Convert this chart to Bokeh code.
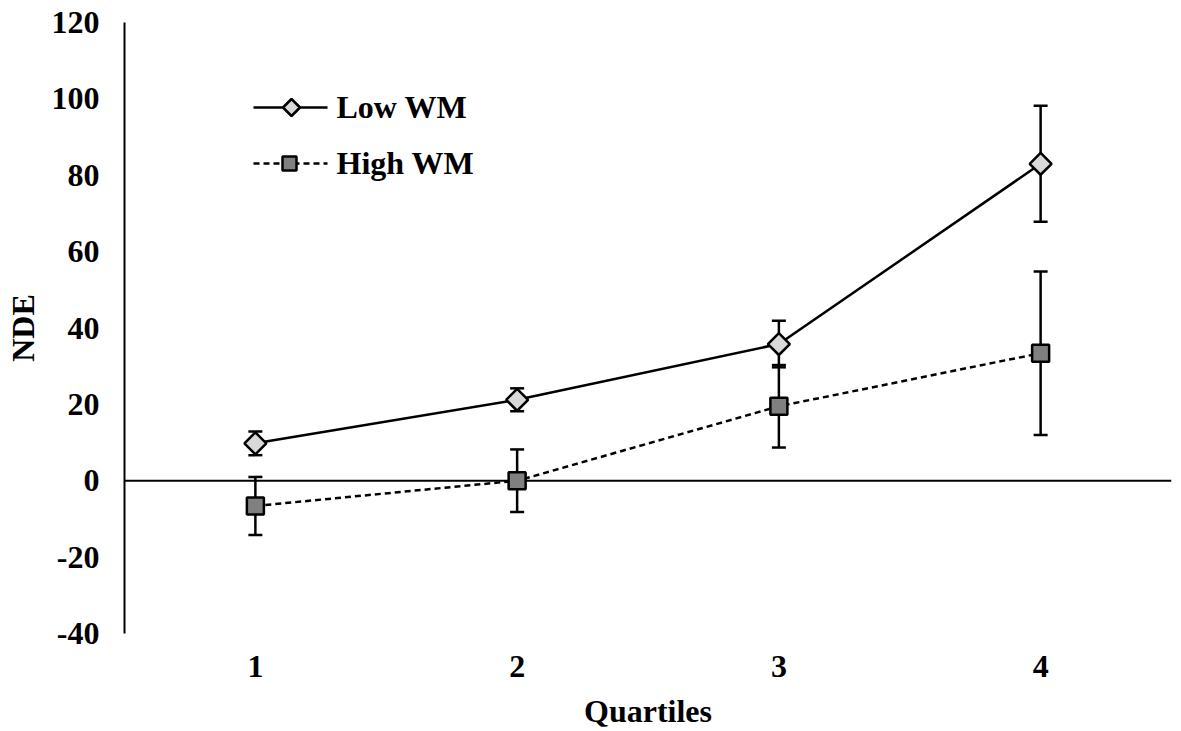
import math
from bokeh.plotting import figure
from bokeh.models import (ColumnDataSource, FixedTicker, Whisker, TeeHead, Span,
                          Range1d, Label, PolyAnnotation, Arrow)
from bokeh.embed import file_html
from bokeh.resources import INLINE

quartiles = [1, 2, 3, 4]
quartile_labels = ["1", "2", "3", "4"]
low_wm = [9.8, 21.2, 35.8, 83.0]
low_err = [3.1, 3.0, 6.1, 15.2]
high_wm = [-6.6, 0.0, 19.5, 33.4]
high_err = [7.6, 8.2, 10.8, 21.4]
y_ticks = [-40, -20, 0, 20, 40, 60, 80, 100, 120]
series_names = ["Low WM", "High WM"]

FONT = "Liberation Serif"
LOW_FILL = "#d9d9d9"
HIGH_FILL = "#808080"

src_low = ColumnDataSource(dict(
    x=quartiles, y=low_wm,
    lo=[v - e for v, e in zip(low_wm, low_err)],
    hi=[v + e for v, e in zip(low_wm, low_err)]))
src_high = ColumnDataSource(dict(
    x=quartiles, y=high_wm,
    lo=[v - e for v, e in zip(high_wm, high_err)],
    hi=[v + e for v, e in zip(high_wm, high_err)]))

p = figure(width=1181, height=731, output_backend="svg", toolbar_location=None,
           x_range=Range1d(0.5, 4.5), y_range=Range1d(-40, 120),
           min_border_left=124, min_border_right=10, min_border_top=22,
           min_border_bottom=98)
p.outline_line_color = None
p.xgrid.visible = False
p.ygrid.visible = False
p.background_fill_color = "white"

zero = Span(location=0, dimension="width", line_color="black", line_width=2, level="underlay")
p.add_layout(zero)

for src in (src_low, src_high):
    w = Whisker(source=src, base="x", lower="lo", upper="hi", dimension="height",
                line_color="black", line_width=2.5, level="underlay",
                upper_head=TeeHead(size=14, line_width=2.5, line_color="black"),
                lower_head=TeeHead(size=14, line_width=2.5, line_color="black"))
    p.add_layout(w)

p.line("x", "y", source=src_low, line_color="black", line_width=2.5)
p.line("x", "y", source=src_high, line_color="black", line_width=2.5, line_dash="6 4")
p.scatter("x", "y", source=src_low, marker="square", size=15.5,
          angle=math.pi / 4, fill_color=LOW_FILL, line_color="black", line_width=2.5)
p.scatter("x", "y", source=src_high, marker="square", size=17,
          fill_color=HIGH_FILL, line_color="black", line_width=2.5)

# legend (drawn in screen units relative to the plot frame)
leg_x0, leg_x1 = 129, 203
rows = [526, 470]
dashes = ["solid", "6 4"]
for i, (name, fy, dash) in enumerate(zip(series_names, rows, dashes)):
    p.add_layout(Arrow(end=None, x_start=leg_x0, x_end=leg_x1, y_start=fy, y_end=fy,
                       start_units="screen", end_units="screen",
                       line_color="black", line_width=2.5, line_dash=dash))
    cx = 167 if i == 0 else 165
    if i == 0:
        r = 8.5
        xs = [cx, cx + r, cx, cx - r]
        ys = [fy + r, fy, fy - r, fy]
        fill = LOW_FILL
    else:
        r = 7
        xs = [cx - r, cx + r, cx + r, cx - r]
        ys = [fy + r, fy + r, fy - r, fy - r]
        fill = HIGH_FILL
    p.add_layout(PolyAnnotation(xs=xs, ys=ys, xs_units="screen", ys_units="screen",
                                fill_color=fill, fill_alpha=1, line_color="black",
                                line_alpha=1, line_width=2.5))
    p.add_layout(Label(x=212, y=fy + 1, x_units="screen", y_units="screen", text=name,
                       text_font=FONT, text_font_style="bold", text_font_size="32px",
                       text_color="black", text_baseline="alphabetic"))

# axes
p.yaxis.ticker = FixedTicker(ticks=y_ticks)
p.yaxis.major_label_overrides = {t: str(t) for t in y_ticks}
p.yaxis.axis_line_width = 2
p.yaxis.axis_line_color = "black"
p.yaxis.major_tick_line_color = None
p.yaxis.minor_tick_line_color = None
p.yaxis.major_tick_out = 0
p.yaxis.major_tick_in = 0
p.yaxis.major_label_standoff = 25
p.yaxis.major_label_text_font = FONT
p.yaxis.major_label_text_font_style = "bold"
p.yaxis.major_label_text_font_size = "32px"
p.yaxis.major_label_text_color = "black"
p.yaxis.axis_label = "NDE"
p.yaxis.axis_label_text_font = FONT
p.yaxis.axis_label_text_font_style = "bold"
p.yaxis.axis_label_text_font_size = "32px"
p.yaxis.axis_label_text_color = "black"
p.yaxis.axis_label_standoff = 8

p.xaxis.ticker = FixedTicker(ticks=quartiles)
p.xaxis.major_label_overrides = {q: t for q, t in zip(quartiles, quartile_labels)}
p.xaxis.axis_line_color = None
p.xaxis.major_tick_line_color = None
p.xaxis.minor_tick_line_color = None
p.xaxis.major_tick_out = 0
p.xaxis.major_tick_in = 0
p.xaxis.major_label_standoff = 22
p.xaxis.major_label_text_font = FONT
p.xaxis.major_label_text_font_style = "bold"
p.xaxis.major_label_text_font_size = "32px"
p.xaxis.major_label_text_color = "black"
p.xaxis.axis_label = "Quartiles"
p.xaxis.axis_label_text_font = FONT
p.xaxis.axis_label_text_font_style = "bold"
p.xaxis.axis_label_text_font_size = "32px"
p.xaxis.axis_label_text_color = "black"
p.xaxis.axis_label_standoff = 13

open("out.html", "w").write(file_html(p, INLINE))
